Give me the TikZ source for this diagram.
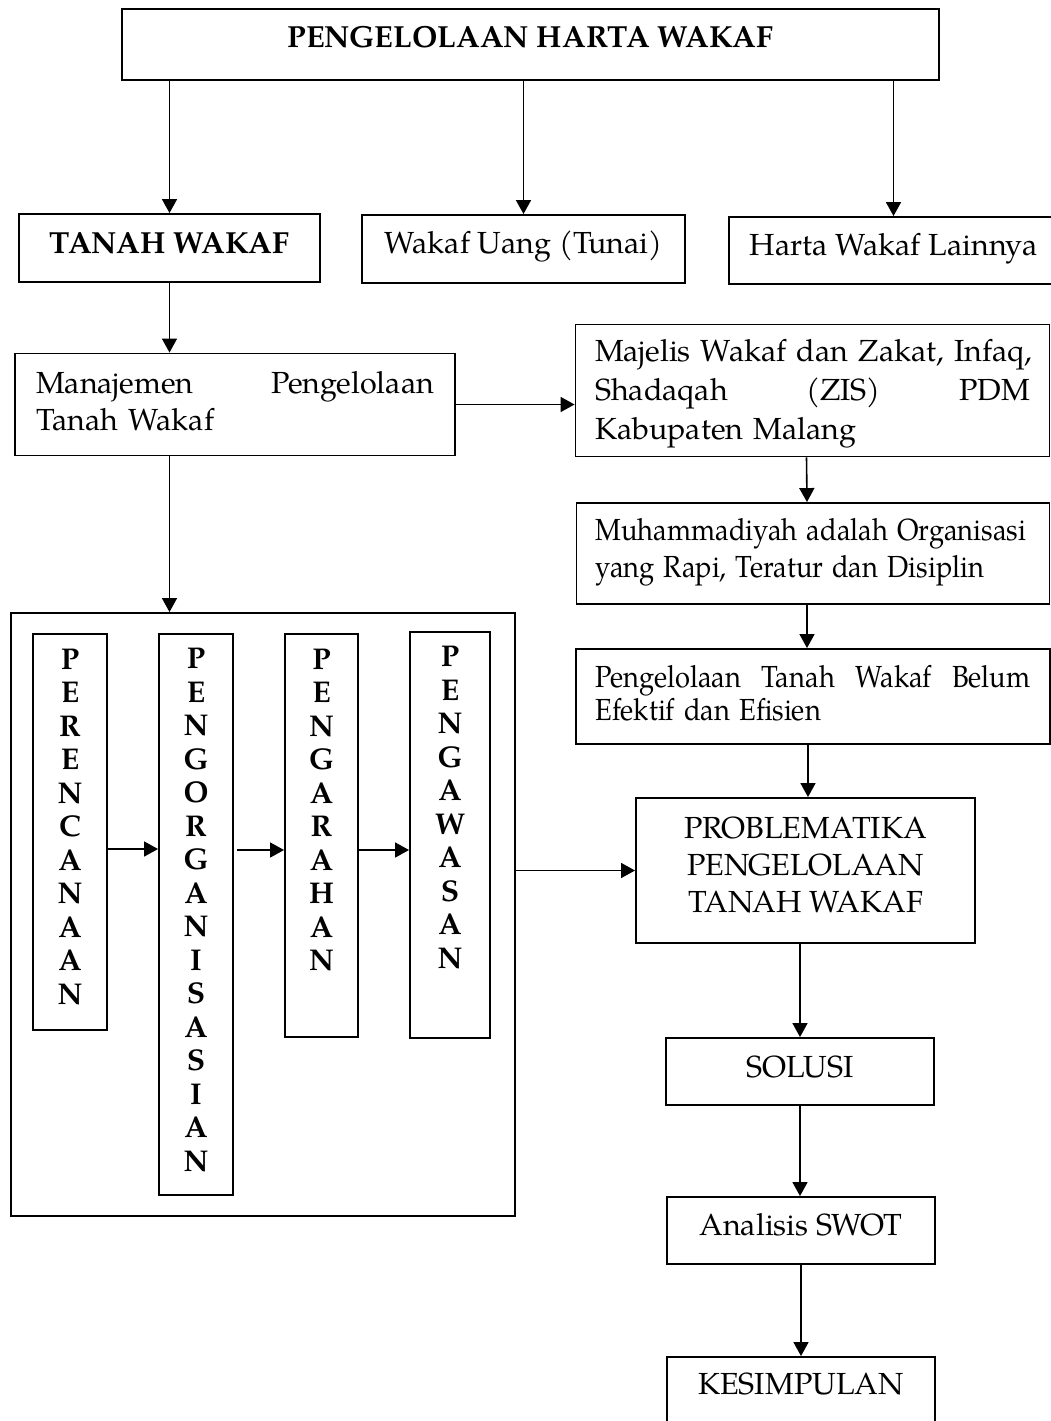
\documentclass[tikz,border=0pt]{standalone}
\usepackage{fontspec}
\usepackage{graphicx}
\setmainfont{TeX Gyre Pagella}
\usetikzlibrary{arrows.meta,calc}
\newcommand\jline[2]{\leavevmode\hbox to #1{#2}}
\newcommand\cond[1]{\leavevmode\scalebox{0.895}[1]{#1}}
\tikzset{
  box/.style={draw, line width=1.9pt, inner sep=0pt, anchor=center},
  arr/.style={line width=1.6pt, -{Triangle[length=14pt,width=15pt]}},
  txt/.style={font=\fontsize{30.5}{37}\selectfont},
  btxt/.style={font=\fontsize{30.5}{37}\selectfont\bfseries},
  vtxt/.style={font=\fontsize{30}{33.5}\selectfont\bfseries, align=center},
}
\begin{document}
\begin{tikzpicture}[x=1pt,y=-1pt]
\useasboundingbox (0,0) rectangle (1051,1421);
% top row
\node[box, btxt, minimum width=817pt, minimum height=71pt, text height=6pt, text depth=0pt] (top) at (530.5,44.5) {PENGELOLAAN HARTA WAKAF};
\node[box, btxt, minimum width=301pt, minimum height=68pt, text height=10pt, text depth=0pt] (tanah) at (169.5,248) {TANAH WAKAF};
\node[box, txt, minimum width=323pt, minimum height=68pt, text height=8pt, text depth=0pt] (uang) at (523.5,249) {Wakaf Uang (Tunai)};
\node[box, txt, minimum width=329pt, minimum height=67pt, text height=9pt, text depth=0pt] (harta) at (893.5,250.5) {Harta Wakaf Lainnya};
% left column
\node[box, txt, minimum width=440pt, minimum height=102pt, text width=398pt, align=left, text height=0pt, text depth=22pt] (manaj) at (235,404.5)
  {\jline{398pt}{Manajemen\hfil Pengelolaan}\\Tanah Wakaf};
\node[box, minimum width=504pt, minimum height=603pt] (proc) at (263,914.5) {};
\node[box, vtxt, minimum width=74pt, minimum height=396pt, text height=344pt, text depth=0pt] (v1) at (70,832)
  {P\\E\\R\\E\\N\\C\\A\\N\\A\\A\\N};
\node[box, vtxt, minimum width=74pt, minimum height=561pt, text height=513pt, text depth=0pt] (v2) at (196,914.5)
  {P\\E\\N\\G\\O\\R\\G\\A\\N\\I\\S\\A\\S\\I\\A\\N};
\node[box, vtxt, minimum width=73pt, minimum height=403pt, text height=270pt, text depth=0pt] (v3) at (321.5,835.5)
  {P\\E\\N\\G\\A\\R\\A\\H\\A\\N};
\node[box, vtxt, minimum width=80pt, minimum height=406pt, text height=266.4pt, text depth=0pt] (v4) at (450,835)
  {P\\E\\N\\G\\A\\W\\A\\S\\A\\N};
% right column
\node[box, font=\fontsize{30.5}{39}\selectfont, minimum width=474pt, minimum height=132pt, text width=435pt, align=left, text height=0pt, text depth=59pt] (majelis) at (812.5,390.5)
  {\jline{435pt}{Majelis Wakaf dan Zakat, Infaq,}\\\jline{435pt}{Shadaqah\hfil(ZIS)\hfil PDM}\\Kabupaten Malang};
\node[box, font=\fontsize{30.5}{37}\selectfont, minimum width=473pt, minimum height=101pt, text width=435pt, align=left, text height=0pt, text depth=27pt] (muham) at (813,553.5)
  {\cond{Muhammadiyah adalah Organisasi}\\\cond{yang Rapi, Teratur dan Disiplin}};
\node[box, font=\fontsize{30.5}{33.5}\selectfont, minimum width=474pt, minimum height=95pt, text width=435pt, align=left, text height=0pt, text depth=19pt] (belum) at (813,696.5)
  {\cond{\hbox to 486pt{Pengelolaan\hfil Tanah\hfil Wakaf\hfil Belum}}\\\cond{Efektif dan Efisien}};
\node[box, txt, minimum width=339pt, minimum height=145pt, align=center, text height=83pt, text depth=0pt] (prob) at (805.5,870.5)
  {PROBLEMATIKA\\PENGELOLAAN\\TANAH WAKAF};
\node[box, txt, minimum width=268pt, minimum height=67pt, text height=11pt, text depth=0pt] (solusi) at (800,1071.5) {SOLUSI};
\node[box, txt, minimum width=268pt, minimum height=67pt, text height=9pt, text depth=0pt] (swot) at (801,1230.5) {Analisis SWOT};
\node[box, txt, minimum width=268pt, minimum height=83pt, text height=0pt, text depth=9pt] (kesim) at (801,1398.5) {KESIMPULAN};
% helper coordinates
\coordinate (ya) at (0,849);
\coordinate (yb) at (0,850);
% connectors
\draw[arr] (tanah.north |- top.south) -- (tanah.north);
\draw[arr] (uang.north |- top.south) -- (uang.north);
\draw[arr] (harta.north |- top.south) -- (harta.north);
\draw[arr] (tanah.south) -- (tanah.south |- manaj.north);
\draw[arr] (tanah.south |- manaj.south) -- (tanah.south |- proc.north);
\draw[arr] (manaj.east) -- (manaj.east -| majelis.west);
\draw[arr] ($(majelis.south)+(-6,0)$) -- ($(muham.north)+(-6,0)$);
\draw[arr] ($(muham.south)+(-6,0)$) -- ($(belum.north)+(-6,0)$);
\draw[arr] ($(belum.south)+(-5,0)$) -- ($(prob.north)+(2.5,0)$);
\draw[arr] (v1.east |- ya) -- (v2.west |- ya);
\draw[arr] ($(v2.east |- yb)+(3,0)$) -- (v3.west |- yb);
\draw[arr] (v3.east |- yb) -- (v4.west |- yb);
\draw[arr] (proc.east |- prob.west) -- (prob.west);
\draw[arr] (solusi.north |- prob.south) -- (solusi.north);
\draw[arr] (solusi.south) -- (solusi.south |- swot.north);
\draw[arr] (swot.south) -- (swot.south |- kesim.north);
\end{tikzpicture}
\end{document}
